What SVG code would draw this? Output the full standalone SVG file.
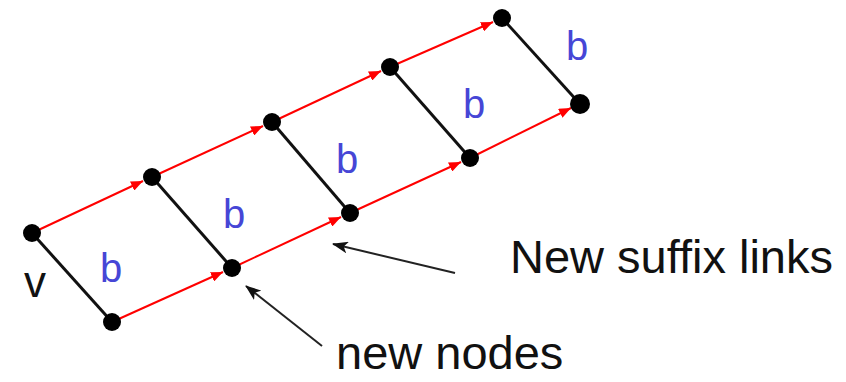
<svg xmlns="http://www.w3.org/2000/svg" width="846" height="382" viewBox="0 0 846 382">
<defs>
<marker id="ar" viewBox="0 0 12 10" refX="12" refY="5" markerWidth="12" markerHeight="10" markerUnits="userSpaceOnUse" orient="auto"><path d="M0,0 L12,5 L0,10 z" fill="#ff0000"/></marker>
<marker id="ak" viewBox="0 0 16 12" refX="15" refY="6" markerWidth="16" markerHeight="12" markerUnits="userSpaceOnUse" orient="auto"><path d="M0,0 L16,6 L0,12 L4,6 z" fill="#111"/></marker>
</defs>
<style>
.red{stroke:#ff0000;stroke-width:2;fill:none;marker-end:url(#ar)}
.blk{stroke:#111;stroke-width:3;fill:none}
.ptr{stroke:#222;stroke-width:2;fill:none;marker-end:url(#ak)}
.nd{fill:#000}
.b{font-family:"Liberation Sans",Arial,sans-serif;font-size:40px;fill:#4646d6}
.t{font-family:"Liberation Sans",Arial,sans-serif;font-size:47px;fill:#111}
</style>
<rect width="846" height="382" fill="#fff"/>
<g id="connectors">
<line class="blk" x1="32" y1="233" x2="112" y2="322"/>
<line class="blk" x1="152" y1="177" x2="232" y2="268"/>
<line class="blk" x1="272" y1="122" x2="350" y2="213"/>
<line class="blk" x1="390" y1="67" x2="470" y2="158"/>
<line class="blk" x1="502" y1="18" x2="580" y2="104"/>
<line class="red" x1="32" y1="233" x2="143" y2="181"/>
<line class="red" x1="152" y1="177" x2="263" y2="126"/>
<line class="red" x1="272" y1="122" x2="381" y2="71"/>
<line class="red" x1="390" y1="67" x2="493" y2="22"/>
<line class="red" x1="112" y1="322" x2="223" y2="272"/>
<line class="red" x1="232" y1="268" x2="341" y2="217"/>
<line class="red" x1="350" y1="213" x2="461" y2="162"/>
<line class="red" x1="470" y1="158" x2="571" y2="108"/>
<line class="ptr" x1="455" y1="273" x2="333" y2="244"/>
<line class="ptr" x1="322" y1="346" x2="246" y2="286"/>
</g>
<g id="n-a0"><circle class="nd" cx="32" cy="233" r="9"/></g>
<g id="n-a1"><circle class="nd" cx="152" cy="177" r="9"/></g>
<g id="n-a2"><circle class="nd" cx="272" cy="122" r="9"/></g>
<g id="n-a3"><circle class="nd" cx="390" cy="67" r="9"/></g>
<g id="n-a4"><circle class="nd" cx="502" cy="18" r="9"/></g>
<g id="n-b0"><circle class="nd" cx="112" cy="322" r="9"/></g>
<g id="n-b1"><circle class="nd" cx="232" cy="268" r="9"/></g>
<g id="n-b2"><circle class="nd" cx="350" cy="213" r="9"/></g>
<g id="n-b3"><circle class="nd" cx="470" cy="158" r="9"/></g>
<g id="n-b4"><circle class="nd" cx="580" cy="104" r="10"/></g>
<g id="labels">
<text class="b" x="100" y="282">b</text>
<text class="b" x="223" y="228">b</text>
<text class="b" x="336" y="173">b</text>
<text class="b" x="463" y="118">b</text>
<text class="b" x="566" y="60">b</text>
<text class="t" x="24" y="297" style="font-size:44px">v</text>
<text class="t" x="510" y="273">New suffix links</text>
<text class="t" x="336" y="369">new nodes</text>
</g>
</svg>
